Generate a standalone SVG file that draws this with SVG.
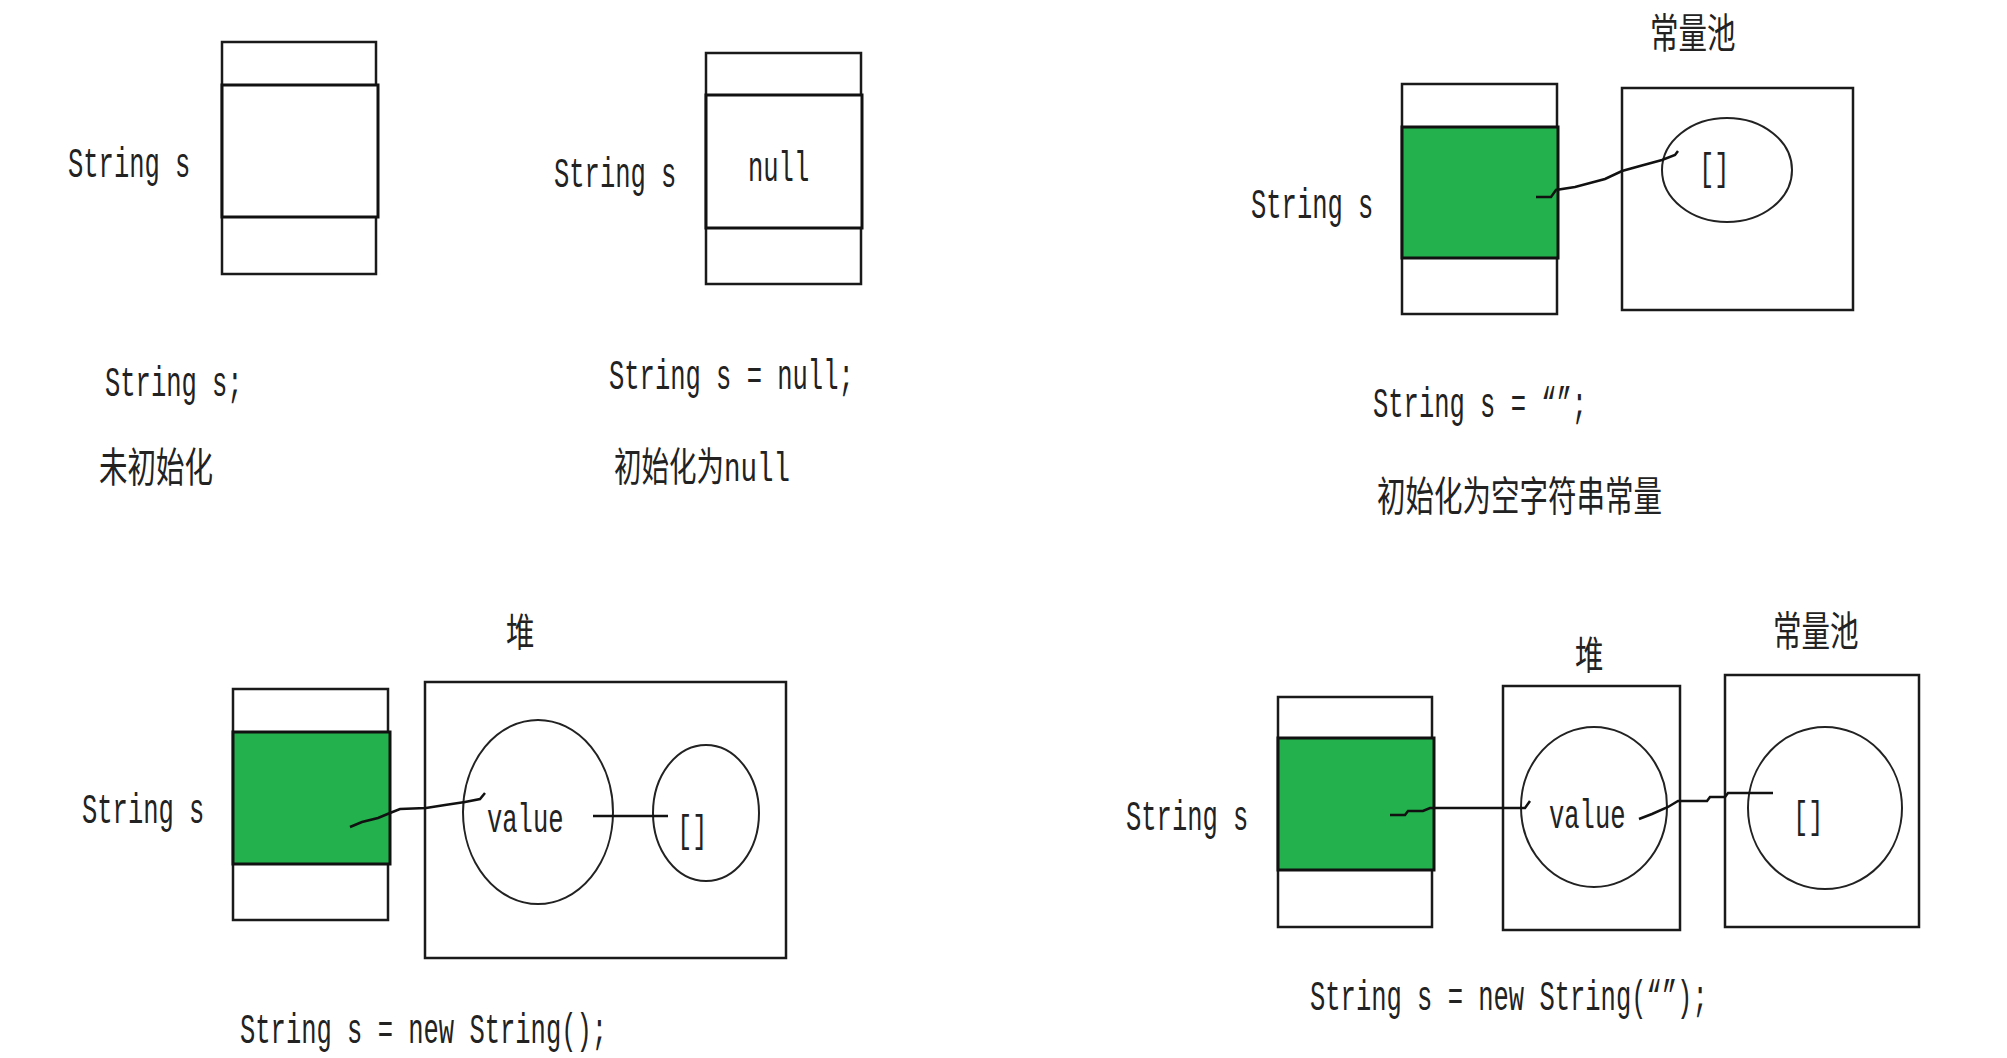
<svg xmlns="http://www.w3.org/2000/svg" width="2007" height="1058" viewBox="0 0 2007 1058">
<style>
.bg{fill:#ffffff}
.box{fill:#ffffff;stroke:#1a1a1a;stroke-width:2.5}
.mid{fill:#ffffff;stroke:#111111;stroke-width:3}
.grn{fill:#22b14c;stroke:#111111;stroke-width:3}
.ell{fill:none;stroke:#222222;stroke-width:2}
.con{fill:none;stroke:#111111;stroke-width:2.5;stroke-linejoin:miter}
.t{font-family:"Liberation Mono",monospace;font-size:25.5px;fill:#222222}
.c{font-family:"Noto Sans CJK SC",sans-serif;font-size:28.5px;fill:#222222}
.m{font-family:"Liberation Mono","Noto Sans CJK SC",monospace;font-size:27.5px;fill:#222222}
</style>
<rect class="bg" x="0" y="0" width="2007" height="1058"/>

<g id="panel1">
  <g id="p1-stack">
    <rect class="box" x="222" y="42" width="154" height="232"/>
    <rect class="mid" x="222" y="85" width="156" height="132"/>
  </g>
  <text class="t" transform="translate(68,177) scale(1,1.7)">String s</text>
  <text class="t" transform="translate(105,396) scale(1,1.7)">String s;</text>
  <text class="c" transform="translate(99,482) scale(1,1.42)">未初始化</text>
</g>

<g id="panel2">
  <g id="p2-stack">
    <rect class="box" x="706" y="53" width="155" height="231"/>
    <rect class="mid" x="706" y="95" width="156" height="133"/>
    <text class="t" transform="translate(748,181) scale(1,1.7)">null</text>
  </g>
  <text class="t" transform="translate(554,187) scale(1,1.7)">String s</text>
  <text class="t" transform="translate(609,389) scale(1,1.7)">String s = null;</text>
  <text class="m" transform="translate(614,481) scale(1,1.45)">初始化为null</text>
</g>

<g id="panel3">
  <g id="p3-stack">
    <rect class="box" x="1402" y="84" width="155" height="230"/>
    <rect class="grn" x="1402" y="127" width="156" height="131"/>
  </g>
  <g id="p3-pool">
    <rect class="box" x="1622" y="88" width="231" height="222"/>
    <ellipse class="ell" cx="1727" cy="170" rx="65" ry="52"/>
    <text class="t" transform="translate(1699,180) scale(1,1.5)">[]</text>
  </g>
  <text class="t" transform="translate(1251,218) scale(1,1.7)">String s</text>
  <text class="c" transform="translate(1650,48) scale(1,1.42)">常量池</text>
  <text class="t" transform="translate(1373,417) scale(1,1.7)">String s = “”;</text>
  <text class="c" transform="translate(1377,511) scale(1,1.42)">初始化为空字符串常量</text>
</g>

<g id="panel4">
  <g id="p4-stack">
    <rect class="box" x="233" y="689" width="155" height="231"/>
    <rect class="grn" x="233" y="732" width="157" height="132"/>
  </g>
  <g id="p4-heap">
    <rect class="box" x="425" y="682" width="361" height="276"/>
    <ellipse class="ell" cx="538" cy="812" rx="75" ry="92"/>
    <text class="t" transform="translate(487,832) scale(1,1.6)">value</text>
    <ellipse class="ell" cx="706" cy="813" rx="53" ry="68"/>
    <text class="t" transform="translate(677,842) scale(1,1.5)">[]</text>
  </g>
  <text class="t" transform="translate(82,823) scale(1,1.7)">String s</text>
  <text class="c" transform="translate(506,646) scale(1,1.35)">堆</text>
  <text class="t" transform="translate(240,1043) scale(1,1.7)">String s = new String();</text>
</g>

<g id="panel5">
  <g id="p5-stack">
    <rect class="box" x="1278" y="697" width="154" height="230"/>
    <rect class="grn" x="1278" y="738" width="156" height="132"/>
  </g>
  <g id="p5-heap">
    <rect class="box" x="1503" y="686" width="177" height="244"/>
    <ellipse class="ell" cx="1594" cy="807" rx="73" ry="80"/>
    <text class="t" transform="translate(1549,828) scale(1,1.6)">value</text>
  </g>
  <g id="p5-pool">
    <rect class="box" x="1725" y="675" width="194" height="252"/>
    <ellipse class="ell" cx="1825" cy="808" rx="77" ry="81"/>
    <text class="t" transform="translate(1793,828) scale(1,1.5)">[]</text>
  </g>
  <text class="t" transform="translate(1126,830) scale(1,1.7)">String s</text>
  <text class="c" transform="translate(1575,669) scale(1,1.35)">堆</text>
  <text class="c" transform="translate(1773,646) scale(1,1.42)">常量池</text>
  <text class="t" transform="translate(1310,1010) scale(1,1.7)">String s = new String(“”);</text>
</g>

<g id="connectors">
  <polyline class="con" points="1536,197 1551,197 1556,190 1575,187 1590,183 1605,179 1622,171 1640,166 1662,160 1675,155 1678,151"/>
  <polyline class="con" points="350,827 362,822 378,818 390,813 400,809 426,808 445,805 465,802 480,799 485,793"/>
  <line class="con" x1="593" y1="816" x2="668" y2="816"/>
  <polyline class="con" points="1390,815 1405,815 1408,811 1423,811 1430,808 1525,808 1530,801"/>
  <polyline class="con" points="1639,819 1652,814 1668,807 1678,801 1707,801 1710,797 1725,797 1728,793 1773,793"/>
</g>
</svg>
